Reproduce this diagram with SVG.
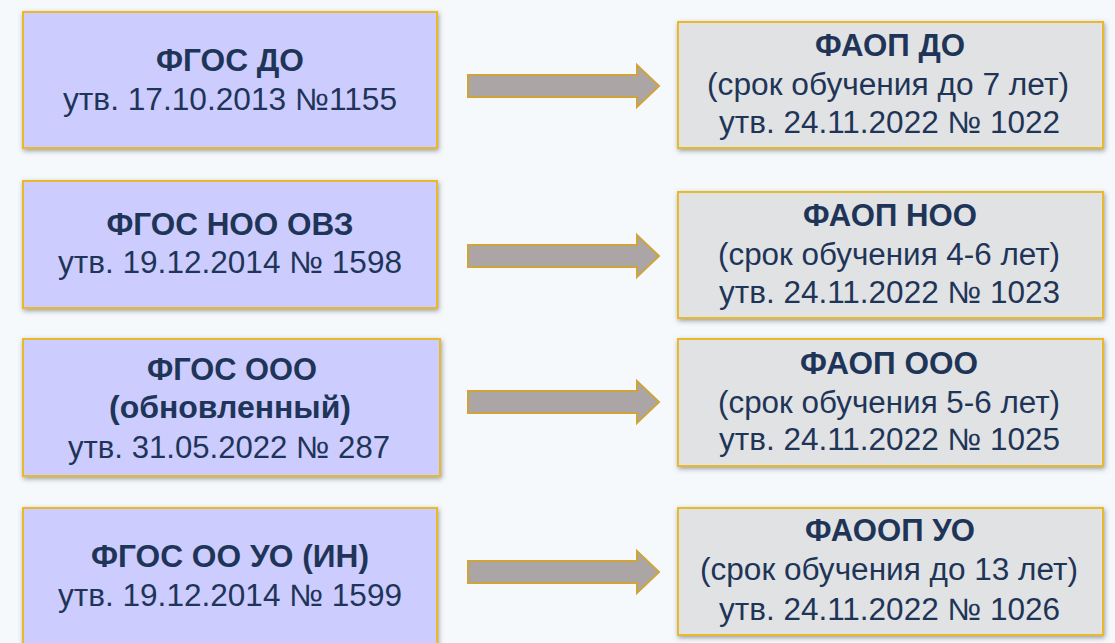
<svg xmlns="http://www.w3.org/2000/svg" width="1115" height="643" viewBox="0 0 1115 643">
<defs>
<filter id="sh" x="-10%" y="-10%" width="120%" height="130%">
<feDropShadow dx="1" dy="2" stdDeviation="2.5" flood-color="#555" flood-opacity="0.55"/>
</filter>
<style>
.l{fill:#CCCCFF;stroke:#E8B92A;stroke-width:2;filter:url(#sh)}
.r{fill:#E1E2E4;stroke:#E8B92A;stroke-width:2;filter:url(#sh)}
text{font-family:"Liberation Sans",Arial,sans-serif;font-size:31px;fill:#1F3558;text-anchor:middle}
.b{font-weight:bold}
.arr{fill:#ABA6A5;stroke:#CFA53A;stroke-width:2;stroke-linejoin:miter}
</style>
</defs>
<rect width="1115" height="643" fill="#F5F9FC"/>
<g id="connectors">
<path class="arr" d="M468,75 H637 V65 L659,86 L637,107 V97 H468 Z"/>
<path class="arr" d="M468,245 H637 V235 L659,256 L637,277 V267 H468 Z"/>
<path class="arr" d="M468,391 H637 V381 L659,402 L637,423 V413 H468 Z"/>
<path class="arr" d="M468,561 H637 V551 L659,572 L637,593 V583 H468 Z"/>
</g>
<g id="fgos-do">
<rect class="l" x="23" y="12" width="414" height="136"/>
<text class="b" x="230" y="71" textLength="148" lengthAdjust="spacingAndGlyphs">ФГОС ДО</text>
<text x="230" y="110" textLength="334" lengthAdjust="spacingAndGlyphs">утв. 17.10.2013 №1155</text>
</g>
<g id="fgos-noo-ovz">
<rect class="l" x="23" y="181" width="414" height="127"/>
<text class="b" x="230" y="235" textLength="247" lengthAdjust="spacingAndGlyphs">ФГОС НОО ОВЗ</text>
<text x="230" y="273" textLength="344" lengthAdjust="spacingAndGlyphs">утв. 19.12.2014 № 1598</text>
</g>
<g id="fgos-ooo">
<rect class="l" x="23" y="339" width="417" height="137"/>
<text class="b" x="232" y="380" textLength="170" lengthAdjust="spacingAndGlyphs">ФГОС ООО</text>
<text class="b" x="230" y="418" textLength="242" lengthAdjust="spacingAndGlyphs">(обновленный)</text>
<text x="229" y="458" textLength="322" lengthAdjust="spacingAndGlyphs">утв. 31.05.2022 № 287</text>
</g>
<g id="fgos-oo-uo">
<rect class="l" x="23" y="508" width="414" height="150"/>
<text class="b" x="230" y="567" textLength="278" lengthAdjust="spacingAndGlyphs">ФГОС ОО УО (ИН)</text>
<text x="230" y="606" textLength="344" lengthAdjust="spacingAndGlyphs">утв. 19.12.2014 № 1599</text>
</g>
<g id="faop-do">
<rect class="r" x="678" y="22" width="425" height="126"/>
<text class="b" x="890" y="56" textLength="150" lengthAdjust="spacingAndGlyphs">ФАОП ДО</text>
<text x="888" y="95" textLength="362" lengthAdjust="spacingAndGlyphs">(срок обучения до 7 лет)</text>
<text x="889.5" y="133" textLength="341" lengthAdjust="spacingAndGlyphs">утв. 24.11.2022 № 1022</text>
</g>
<g id="faop-noo">
<rect class="r" x="678" y="192" width="425" height="126"/>
<text class="b" x="890" y="226" textLength="174" lengthAdjust="spacingAndGlyphs">ФАОП НОО</text>
<text x="889" y="265" textLength="342" lengthAdjust="spacingAndGlyphs">(срок обучения 4-6 лет)</text>
<text x="889.5" y="303" textLength="341" lengthAdjust="spacingAndGlyphs">утв. 24.11.2022 № 1023</text>
</g>
<g id="faop-ooo">
<rect class="r" x="678" y="339" width="425" height="127"/>
<text class="b" x="889" y="374" textLength="178" lengthAdjust="spacingAndGlyphs">ФАОП ООО</text>
<text x="889" y="413" textLength="342" lengthAdjust="spacingAndGlyphs">(срок обучения 5-6 лет)</text>
<text x="889.5" y="450" textLength="341" lengthAdjust="spacingAndGlyphs">утв. 24.11.2022 № 1025</text>
</g>
<g id="faoop-uo">
<rect class="r" x="678" y="508" width="425" height="127"/>
<text class="b" x="890" y="541" textLength="170" lengthAdjust="spacingAndGlyphs">ФАООП УО</text>
<text x="889" y="580" textLength="378" lengthAdjust="spacingAndGlyphs">(срок обучения до 13 лет)</text>
<text x="889.5" y="620" textLength="341" lengthAdjust="spacingAndGlyphs">утв. 24.11.2022 № 1026</text>
</g>
</svg>
